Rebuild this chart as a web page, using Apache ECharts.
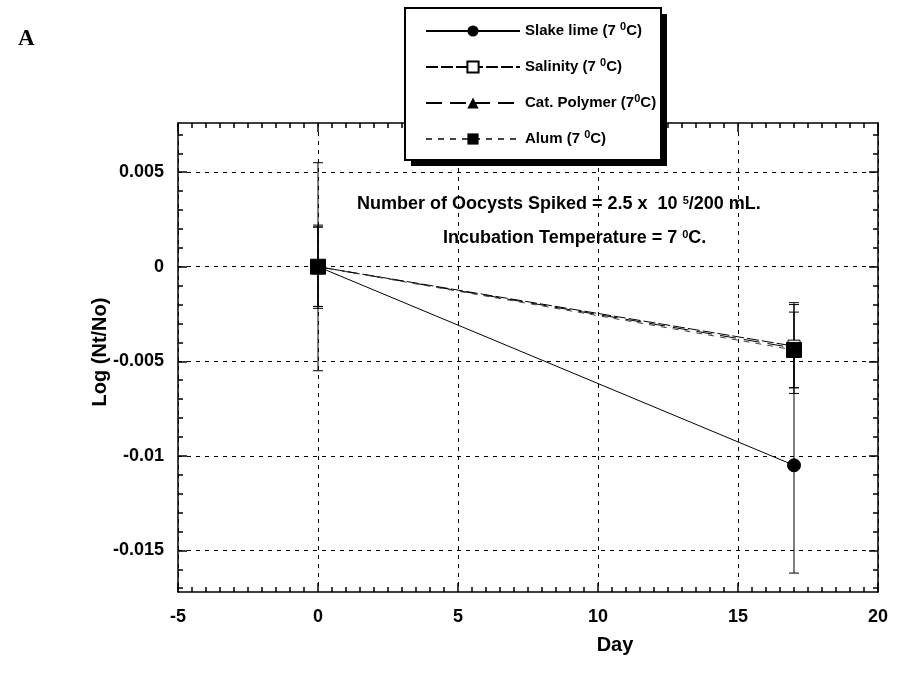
<!DOCTYPE html>
<html>
<head>
<meta charset="utf-8">
<script src="https://cdn.jsdelivr.net/npm/echarts@6/dist/echarts.min.js"></script>
<style>
html, body { margin: 0; padding: 0; background: #fff; }
#main { width: 899px; height: 681px; }
</style>
</head>
<body>
<div id="main"></div>
<script>
// data
var seriesNames = ['Slake lime', 'Salinity', 'Cat. Polymer', 'Alum'];
var days = [0, 17];
var slakeLime = [0, -0.0105];
var salinity = [0, -0.0042];
var catPolymer = [0, -0.0043];
var alum = [0, -0.0044];
var slakeLimeErr = [0.0055, 0.0057];
var salinityErr = [0.0022, 0.0022];
var catPolymerErr = [0.0021, 0.0024];
var alumErr = [0.0021, 0.0020];

var xTicks = [-5, 0, 5, 10, 15, 20];
var yTicks = [-0.015, -0.01, -0.005, 0, 0.005];
var xMinor = [];
for (var i = -10; i <= 40; i++) xMinor.push(i / 2);
var yMinor = [];
for (var j = -17; j <= 7; j++) yMinor.push(j / 1000);

var X_MIN = -5, X_MAX = 20, Y_MIN = -0.0172, Y_MAX = 0.0076;

var myChart = echarts.init(document.getElementById('main'));

function pts(vals) {
    return days.map(function (d, k) { return [d, vals[k]]; });
}
function bars(vals, errs) {
    return days.map(function (d, k) { return [d, vals[k] - errs[k], vals[k] + errs[k]]; });
}

var fontB = 'Liberation Sans';

function xAxisDef(pos, major) {
    return {
        type: 'value', position: pos, min: X_MIN, max: X_MAX,
        axisLine: { show: major, onZero: false, lineStyle: { color: '#000', width: 1.5 } },
        axisTick: { show: true, inside: true, length: major ? 9 : 5, customValues: major ? xTicks : xMinor,
            lineStyle: { color: '#000', width: 1.5 } },
        axisLabel: { show: major && pos === 'bottom', customValues: xTicks, margin: 16,
            fontFamily: fontB, fontWeight: 'bold', fontSize: 18, color: '#000' },
        splitLine: { show: major && pos === 'bottom', lineStyle: { color: '#000', type: [4, 5], width: 1 } }
    };
}
function yAxisDef(pos, major) {
    return {
        type: 'value', position: pos, min: Y_MIN, max: Y_MAX,
        axisLine: { show: major, onZero: false, lineStyle: { color: '#000', width: 1.5 } },
        axisTick: { show: true, inside: true, length: major ? 9 : 5, customValues: major ? yTicks : yMinor,
            lineStyle: { color: '#000', width: 1.5 } },
        axisLabel: { show: major && pos === 'left', customValues: yTicks, margin: 14,
            fontFamily: fontB, fontWeight: 'bold', fontSize: 18, color: '#000',
            formatter: function (v) { return String(Math.round(v * 1000) / 1000); } },
        splitLine: { show: major && pos === 'left', lineStyle: { color: '#000', type: [4, 5], width: 1 } }
    };
}

var errRender = function (params, api) {
    var x = api.value(0);
    var lo = api.coord([x, api.value(1)]);
    var hi = api.coord([x, api.value(2)]);
    var w = 5;
    var st = { stroke: '#000', lineWidth: 1 };
    return {
        type: 'group',
        children: [
            { type: 'line', shape: { x1: lo[0], y1: lo[1], x2: hi[0], y2: hi[1] }, style: st },
            { type: 'line', shape: { x1: lo[0] - w, y1: lo[1], x2: lo[0] + w, y2: lo[1] }, style: st },
            { type: 'line', shape: { x1: hi[0] - w, y1: hi[1], x2: hi[0] + w, y2: hi[1] }, style: st }
        ]
    };
};

var supRich = { sup: { fontFamily: fontB, fontWeight: 'bold', fontSize: 11, color: '#000', verticalAlign: 'top', padding: [0, 0, 8, 0] } };

var option = {
    backgroundColor: '#fff',
    animation: false,
    grid: { left: 178, right: 21, top: 123, bottom: 89 },
    xAxis: [xAxisDef('bottom', true), xAxisDef('bottom', false), xAxisDef('top', true), xAxisDef('top', false)],
    yAxis: [yAxisDef('left', true), yAxisDef('left', false), yAxisDef('right', true), yAxisDef('right', false)],
    legend: {
        orient: 'vertical', left: 425, top: 21, z: 20,
        data: seriesNames,
        padding: 0, itemGap: 16, itemWidth: 94, itemHeight: 14,
        textStyle: { fontFamily: fontB, fontWeight: 'bold', fontSize: 15, lineHeight: 20, color: '#000', rich: supRich },
        formatter: function (name) {
            return name === 'Cat. Polymer' ? name + ' (7{sup|0}C)' : name + ' (7 {sup|0}C)';
        }
    },
    graphic: [
        { type: 'rect', z: 15, shape: { x: 411, y: 14, width: 256, height: 152 }, style: { fill: '#000' } },
        { type: 'rect', z: 16, shape: { x: 405, y: 8, width: 256, height: 152 }, style: { fill: '#fff', stroke: '#000', lineWidth: 2 } },
        { type: 'text', left: 18, top: 28, style: { text: 'A', fontFamily: 'Liberation Serif', fontWeight: 'bold', fontSize: 23, fill: '#000' } },
        { type: 'text', left: 357, top: 195, z: 5, style: { text: 'Number of Oocysts Spiked = 2.5 x  10 {sup|5}/200 mL.', fontFamily: fontB, fontWeight: 'bold', fontSize: 18, fill: '#000', rich: supRich } },
        { type: 'text', left: 443, top: 229, z: 5, style: { text: 'Incubation Temperature = 7 {sup|0}C.', fontFamily: fontB, fontWeight: 'bold', fontSize: 18, fill: '#000', rich: supRich } },
        { type: 'text', x: 615, y: 645, style: { text: 'Day', x: 0, y: 0, align: 'center', verticalAlign: 'middle', fontFamily: fontB, fontWeight: 'bold', fontSize: 20, fill: '#000' } },
        { type: 'text', x: 100, y: 352, rotation: Math.PI / 2, style: { text: 'Log (Nt/No)', x: 0, y: 0, align: 'center', verticalAlign: 'middle', fontFamily: fontB, fontWeight: 'bold', fontSize: 20, fill: '#000' } }
    ],
    series: [
        { type: 'custom', renderItem: errRender, data: bars(slakeLime, slakeLimeErr), z: 3, silent: true },
        { type: 'custom', renderItem: errRender, data: bars(salinity, salinityErr), z: 3, silent: true },
        { type: 'custom', renderItem: errRender, data: bars(catPolymer, catPolymerErr), z: 3, silent: true },
        { type: 'custom', renderItem: errRender, data: bars(alum, alumErr), z: 3, silent: true },
        { name: seriesNames[0], type: 'line', data: pts(slakeLime), symbol: 'circle', symbolSize: 13,
          itemStyle: { color: '#000', borderColor: '#000' }, lineStyle: { color: '#000', width: 1, type: 'solid' }, z: 4 },
        { name: seriesNames[1], type: 'line', data: pts(salinity), symbol: 'rect', symbolSize: 12,
          itemStyle: { color: '#fff', borderColor: '#000', borderWidth: 1 }, lineStyle: { color: '#000', width: 1, type: [12, 3] }, z: 4 },
        { name: seriesNames[2], type: 'line', data: pts(catPolymer), symbol: 'triangle', symbolSize: 12,
          itemStyle: { color: '#000', borderColor: '#000' }, lineStyle: { color: '#000', width: 1, type: [16, 8] }, z: 4 },
        { name: seriesNames[3], type: 'line', data: pts(alum), symbol: 'rect', symbolSize: 15,
          itemStyle: { color: '#000', borderColor: '#000' }, lineStyle: { color: '#444', width: 1, type: [6, 6] }, z: 4 }
    ]
};

myChart.setOption(option);
</script>
</body>
</html>
